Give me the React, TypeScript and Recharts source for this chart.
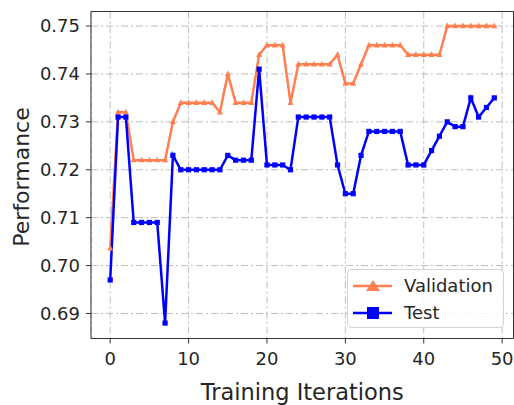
import React from 'react';
import {
  LineChart, Line, XAxis, YAxis, CartesianGrid, Legend, ReferenceArea, Label,
} from 'recharts';

// Performance per training iteration
const validation = [
  0.7036, 0.732, 0.732, 0.722, 0.722, 0.722, 0.722, 0.722, 0.730, 0.734,
  0.734, 0.734, 0.734, 0.734, 0.732, 0.740, 0.734, 0.734, 0.734, 0.744,
  0.746, 0.746, 0.746, 0.734, 0.742, 0.742, 0.742, 0.742, 0.742, 0.744,
  0.738, 0.738, 0.742, 0.746, 0.746, 0.746, 0.746, 0.746, 0.744, 0.744,
  0.744, 0.744, 0.744, 0.750, 0.750, 0.750, 0.750, 0.750, 0.750, 0.750,
];
const test = [
  0.697, 0.731, 0.731, 0.709, 0.709, 0.709, 0.709, 0.688, 0.723, 0.720,
  0.720, 0.720, 0.720, 0.720, 0.720, 0.723, 0.722, 0.722, 0.722, 0.741,
  0.721, 0.721, 0.721, 0.720, 0.731, 0.731, 0.731, 0.731, 0.731, 0.721,
  0.715, 0.715, 0.723, 0.728, 0.728, 0.728, 0.728, 0.728, 0.721, 0.721,
  0.721, 0.724, 0.727, 0.730, 0.729, 0.729, 0.735, 0.731, 0.733, 0.735,
];
const xTicks = [0, 10, 20, 30, 40, 50];
const yTicks = [0.69, 0.70, 0.71, 0.72, 0.73, 0.74, 0.75];

const X_DOMAIN: [number, number] = [-2.45, 51.45];
const Y_DOMAIN: [number, number] = [0.68478, 0.75303];

const ORANGE = '#FF7F50';
const BLUE = '#0000FF';
const FONT = '"DejaVu Sans", sans-serif';
const TEXT = '#262626';
const TICK_FONT = 18;
const LABEL_FONT = 22.5;

const data = validation.map((v, i) => ({ iter: i, validation: v, test: test[i] }));

function Triangle({ cx, cy }: any) {
  if (cx == null || cy == null) return null;
  return <polygon points={`${cx},${cy - 3.5} ${cx - 3},${cy + 2.2} ${cx + 3},${cy + 2.2}`} fill={ORANGE} />;
}

function Square({ cx, cy }: any) {
  if (cx == null || cy == null) return null;
  return <rect x={cx - 2.6} y={cy - 2.6} width={5.2} height={5.2} fill={BLUE} />;
}

function LegendBox() {
  const rows = [
    { name: 'Validation', color: ORANGE, marker: 'tri' },
    { name: 'Test', color: BLUE, marker: 'sq' },
  ];
  return (
    <div
      style={{
        width: 157, height: 59, boxSizing: 'border-box',
        border: '1px solid #d4d4d4', borderRadius: 4, background: 'rgba(255,255,255,0.85)',
        fontFamily: FONT, fontSize: TICK_FONT, color: TEXT, paddingTop: 2,
      }}
    >
      {rows.map((r) => (
        <div key={r.name} style={{ display: 'flex', alignItems: 'center', height: 27 }}>
          <svg width={52} height={14} style={{ marginLeft: 4 }}>
            <line x1={1} y1={7} x2={40} y2={7} stroke={r.color} strokeWidth={2.5} />
            {r.marker === 'tri'
              ? <polygon points="21,1 14,12 28,12" fill={r.color} />
              : <rect x={15} y={1} width={12} height={12} fill={r.color} />}
          </svg>
          <span style={{ whiteSpace: 'nowrap' }}>{r.name}</span>
        </div>
      ))}
    </div>
  );
}

export default function App() {
  return (
    <div style={{ position: 'absolute', left: 0, top: 0 }}>
      <LineChart
        width={514}
        height={405}
        data={data}
        margin={{ top: 11.5, right: 0.5, bottom: 0, left: 0 }}
      >
        <CartesianGrid strokeDasharray="7 3 2 3" stroke="#bdbdbd" strokeWidth={1} />
        <XAxis
          dataKey="iter"
          type="number"
          domain={X_DOMAIN}
          ticks={xTicks}
          allowDataOverflow
          height={66.5}
          axisLine={false}
          tickSize={5}
          tickMargin={9}
          tickLine={{ stroke: '#333' }}
          tick={{ fontSize: TICK_FONT, fill: TEXT, fontFamily: FONT }}
        >
          <Label
            content={({ viewBox }: any) => (
              <text
                x={viewBox.x + viewBox.width / 2}
                y={viewBox.y + 61}
                textAnchor="middle"
                fontSize={LABEL_FONT}
                fontFamily={FONT}
                fill={TEXT}
              >
                Training Iterations
              </text>
            )}
          />
        </XAxis>
        <YAxis
          type="number"
          domain={Y_DOMAIN}
          ticks={yTicks}
          allowDataOverflow
          width={91}
          axisLine={false}
          tickSize={5}
          tickMargin={6}
          tickLine={{ stroke: '#333' }}
          tickFormatter={(v: number) => v.toFixed(2)}
          tick={{ fontSize: TICK_FONT, fill: TEXT, fontFamily: FONT }}
        >
          <Label
            content={({ viewBox }: any) => {
              const cx = 21;
              const cy = viewBox.y + viewBox.height / 2 + 2;
              return (
                <text
                  x={cx}
                  y={cy}
                  transform={`rotate(-90, ${cx}, ${cy})`}
                  textAnchor="middle"
                  dominantBaseline="central"
                  fontSize={22}
                  fontFamily={FONT}
                  fill={TEXT}
                >
                  Performance
                </text>
              );
            }}
          />
        </YAxis>
        <ReferenceArea
          x1={X_DOMAIN[0]}
          x2={X_DOMAIN[1]}
          y1={Y_DOMAIN[0]}
          y2={Y_DOMAIN[1]}
          fill="none"
          stroke="#333"
          strokeWidth={1}
          ifOverflow="visible"
        />
        <Line
          dataKey="validation"
          stroke={ORANGE}
          strokeWidth={2.5}
          dot={<Triangle />}
          activeDot={false}
          isAnimationActive={false}
        />
        <Line
          dataKey="test"
          stroke={BLUE}
          strokeWidth={2.5}
          dot={<Square />}
          activeDot={false}
          isAnimationActive={false}
        />
        <Legend
          layout="horizontal"
          verticalAlign="middle"
          align="center"
          wrapperStyle={{ left: 347, top: 269, width: 157, height: 59 }}
          content={() => <LegendBox />}
        />
      </LineChart>
    </div>
  );
}
